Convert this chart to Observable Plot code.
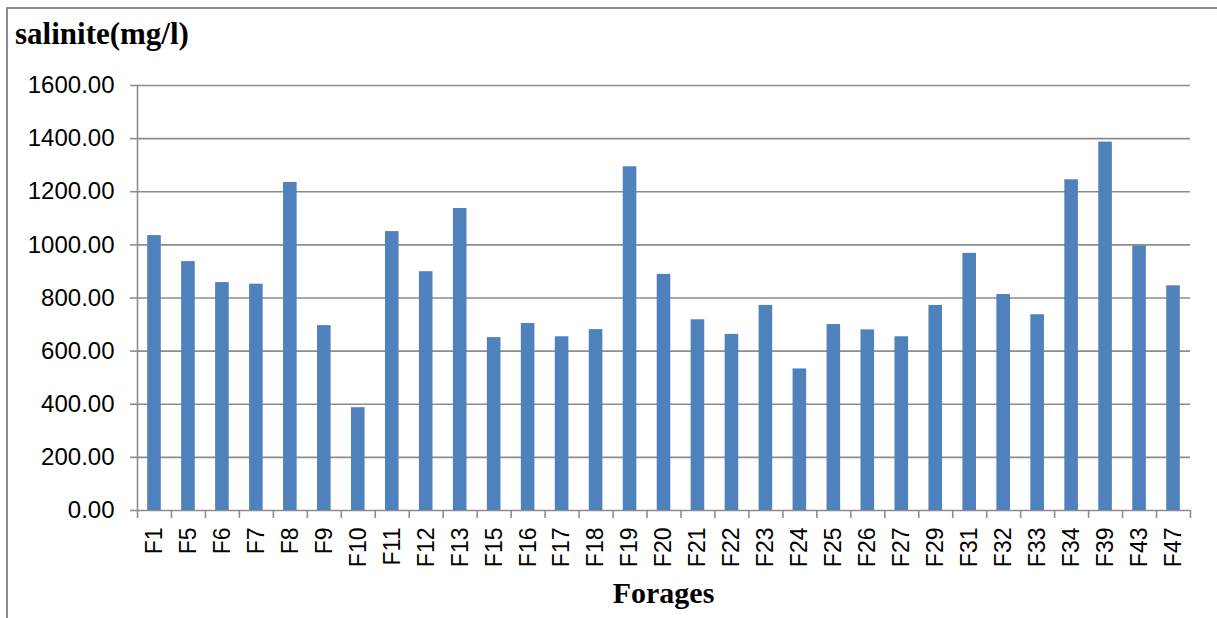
<!DOCTYPE html>
<html>
<head>
<meta charset="utf-8">
<script src="https://cdn.jsdelivr.net/npm/d3@7"></script>
<script src="https://cdn.jsdelivr.net/npm/@observablehq/plot@0.6"></script>
<style>
  html, body { margin: 0; padding: 0; background: #fff; }
  #wrap { position: relative; width: 1217px; height: 618px; overflow: hidden; }
  #frame { position: absolute; left: 6px; top: 7px; right: -4px; bottom: -4px; border-top: 2px solid #8c8c8c; border-left: 2px solid #8c8c8c; }
  #title { position: absolute; left: 15px; top: 16px; font-family: "Liberation Serif", "Times New Roman", serif; font-weight: bold; font-size: 31px; color: #000; white-space: nowrap; }
  #xlabel { position: absolute; left: 137px; width: 1053px; top: 576px; text-align: center; font-family: "Liberation Serif", "Times New Roman", serif; font-weight: bold; font-size: 30px; color: #000; }
  #chart { position: absolute; left: 0; top: 0; }
</style>
</head>
<body>
<div id="wrap">
  <div id="frame"></div>
  <div id="chart"></div>
  <div id="title">salinite(mg/l)</div>
  <div id="xlabel">Forages</div>
</div>
<script>
const forages = ["F1","F5","F6","F7","F8","F9","F10","F11","F12","F13","F15","F16","F17","F18","F19","F20","F21","F22","F23","F24","F25","F26","F27","F29","F31","F32","F33","F34","F39","F43","F47"];
const salinite = [1035,937,858,852,1235,696,387,1050,899,1137,651,704,654,681,1294,889,718,663,772,533,700,680,654,772,968,813,737,1245,1387,996,846];
const yTicks = [0,200,400,600,800,1000,1200,1400,1600];

const data = forages.map((f, i) => ({name: f, value: salinite[i]}));

const W = 1217, H = 618, mL = 137, mR = 27, mT = 85, mB = 108;
const step = (W - mL - mR) / forages.length;
const gray = "#8c8c8c";

const chart = Plot.plot({
  width: W,
  height: H,
  marginLeft: mL,
  marginRight: mR,
  marginTop: mT,
  marginBottom: mB,
  style: {background: "transparent", fontFamily: "'Liberation Sans', Arial, sans-serif", color: "#000"},
  x: {domain: forages, paddingInner: 0.6, paddingOuter: 0.3, round: false},
  y: {domain: [0, 1600]},
  marks: [
    Plot.gridY(yTicks, {stroke: gray, strokeOpacity: 1, strokeWidth: 1.6}),
    Plot.ruleX([forages[0]], {dx: -step / 2, y1: 0, y2: 1600, stroke: gray, strokeWidth: 1.6}),
    Plot.ruleX(forages, {dx: -step / 2, y1: 0, y2: 0, insetBottom: -8, stroke: gray, strokeWidth: 1.6}),
    Plot.ruleX([forages[forages.length - 1]], {dx: step / 2, y1: 0, y2: 0, insetBottom: -8, stroke: gray, strokeWidth: 1.6}),
    Plot.barY(data, {x: "name", y: "value", fill: "#4f81bd"}),
    Plot.axisY(yTicks, {tickSize: 7, tickPadding: 16, tickFormat: d => d.toFixed(2), fontSize: 24, stroke: gray, strokeWidth: 1.6, label: null}),
    Plot.axisX({tickSize: 0, tickPadding: 17, tickRotate: -90, fontSize: 23, label: null})
  ]
});
document.getElementById("chart").appendChild(chart);
</script>
</body>
</html>
